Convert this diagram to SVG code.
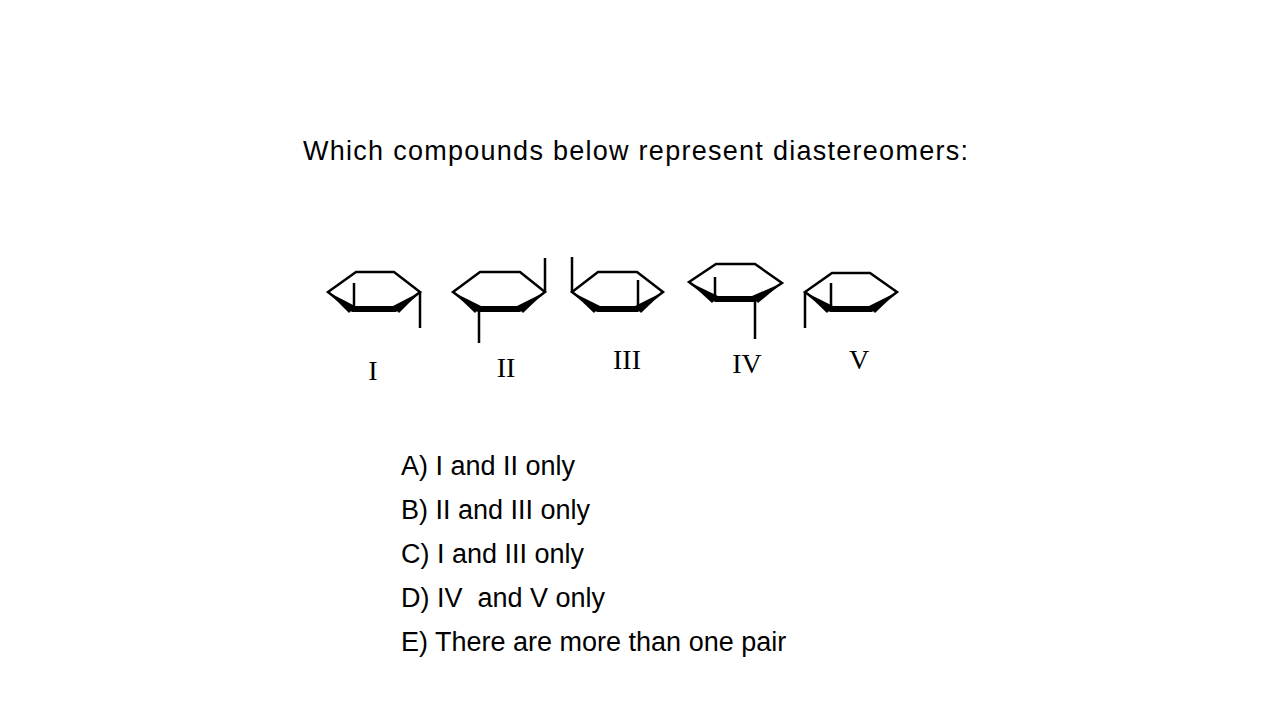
<svg xmlns="http://www.w3.org/2000/svg" width="1280" height="720" viewBox="0 0 1280 720">
<style>
.t{font-family:"Liberation Sans",Arial,sans-serif;font-size:27px;fill:#000}
.r{font-family:"Liberation Serif","Times New Roman",serif;font-size:28px;fill:#000}
.l{fill:none;stroke:#000;stroke-width:2.5;stroke-linejoin:miter}
.b{stroke:#000;stroke-width:6;fill:none}
.w{fill:#000}
</style>
<rect width="1280" height="720" fill="#fff"/>
<text class="t" x="303" y="160" textLength="665">Which compounds below represent diastereomers:</text>
<g id="ring-I">
<polyline class="l" points="352,311 328,292 356,272 394,272 420,292 396,311"/>
<line class="b" x1="352" y1="309" x2="396" y2="309"/>
<polygon class="w" points="328,292 355,306 349,313"/>
<polygon class="w" points="420,292 399,313 393,306"/>
<line class="l" x1="354" y1="283" x2="354" y2="311"/>
<line class="l" x1="420" y1="292" x2="420" y2="328"/>
<text class="r" x="373" y="380" text-anchor="middle">I</text>
</g>
<g id="ring-II">
<polyline class="l" points="478,311 453,292 480,272 520,272 545,292 520,311"/>
<line class="b" x1="478" y1="309" x2="520" y2="309"/>
<polygon class="w" points="453,292 481,306 475,313"/>
<polygon class="w" points="545,292 523,313 517,306"/>
<line class="l" x1="545" y1="258" x2="545" y2="292"/>
<line class="l" x1="479" y1="311" x2="479" y2="343"/>
<text class="r" x="506" y="377" text-anchor="middle">II</text>
</g>
<g id="ring-III">
<polyline class="l" points="597,311 572,292 598,272 637,272 663,292 638,311"/>
<line class="b" x1="597" y1="309" x2="638" y2="309"/>
<polygon class="w" points="572,292 600,306 594,313"/>
<polygon class="w" points="663,292 641,313 635,306"/>
<line class="l" x1="638" y1="280" x2="638" y2="311"/>
<line class="l" x1="572" y1="257" x2="572" y2="292"/>
<text class="r" x="627" y="369" text-anchor="middle">III</text>
</g>
<g id="ring-IV">
<polyline class="l" points="715,301 689,282 716,264 755,264 782,283 755,301"/>
<line class="b" x1="715" y1="299" x2="755" y2="299"/>
<polygon class="w" points="689,282 718,296 712,303"/>
<polygon class="w" points="782,283 758,303 752,296"/>
<line class="l" x1="715" y1="277" x2="715" y2="301"/>
<line class="l" x1="755" y1="301" x2="755" y2="339"/>
<text class="r" x="747" y="373" text-anchor="middle">IV</text>
</g>
<g id="ring-V">
<polyline class="l" points="830,311 805,292 832,273 870,273 897,292 872,311"/>
<line class="b" x1="830" y1="309" x2="872" y2="309"/>
<polygon class="w" points="805,292 833,306 827,313"/>
<polygon class="w" points="897,292 875,313 869,306"/>
<line class="l" x1="831" y1="283" x2="831" y2="311"/>
<line class="l" x1="805" y1="292" x2="805" y2="328"/>
<text class="r" x="859" y="369" text-anchor="middle">V</text>
</g>
<g id="connectors"></g>
<text class="t" x="401" y="475">A) I and II only</text>
<text class="t" x="401" y="519">B) II and III only</text>
<text class="t" x="401" y="563">C) I and III only</text>
<text class="t" x="401" y="607" xml:space="preserve">D) IV  and V only</text>
<text class="t" x="401" y="651">E) There are more than one pair</text>
</svg>
